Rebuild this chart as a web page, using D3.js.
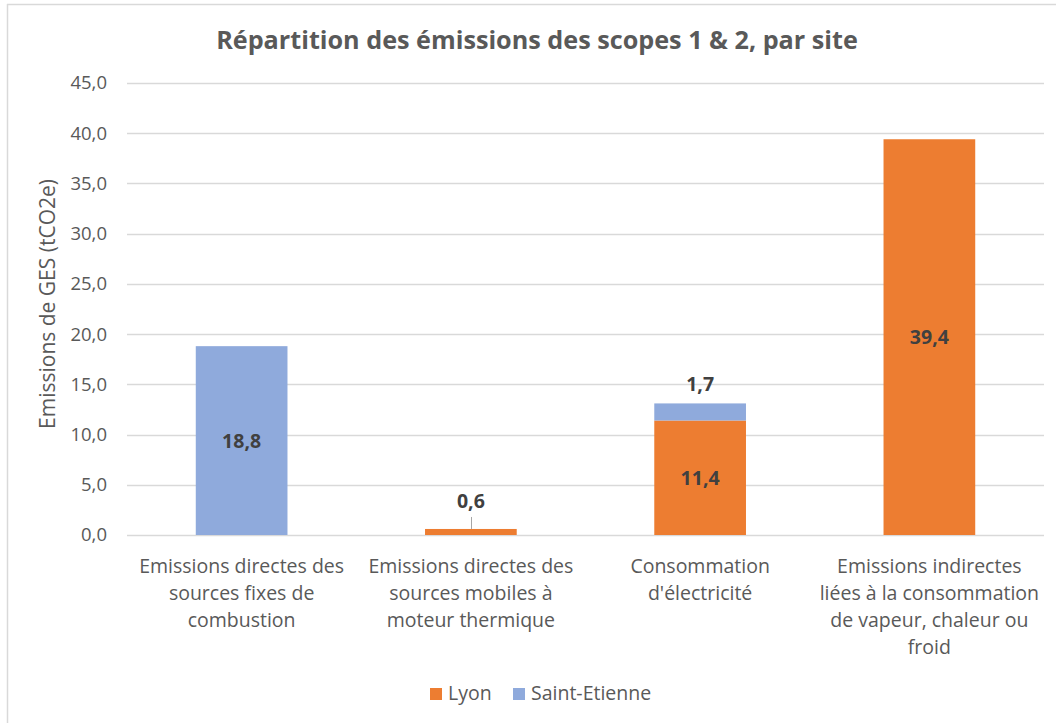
<!DOCTYPE html>
<html>
<head>
<meta charset="utf-8">
<script src="https://cdn.jsdelivr.net/npm/d3@7/dist/d3.min.js"></script>
<style>
  body { margin: 0; background: #fff; }
  svg text { font-family: "Open Sans", Lato, sans-serif; }
</style>
</head>
<body>
<svg id="chart" width="1056" height="723"></svg>
<script>
// data
var categories = [
    ["Emissions directes des", "sources fixes de", "combustion"],
    ["Emissions directes des", "sources mobiles à", "moteur thermique"],
    ["Consommation", "d'électricité"],
    ["Emissions indirectes", "liées à la consommation", "de vapeur, chaleur ou", "froid"]
];
var seriesNames = ["Lyon", "Saint-Etienne"];
var lyon = [0, 0.6, 11.4, 39.4];
var saintEtienne = [18.8, 0, 1.7, 0];
var yTicks = [0, 5, 10, 15, 20, 25, 30, 35, 40, 45];

var colors = ["#ED7D31", "#8FAADC"];

var svg = d3.select("#chart");

// chart border (only top and left are visible in the crop)
svg.append("line")
    .attr("x1", 7).attr("x2", 1056).attr("y1", 4.5).attr("y2", 4.5)
    .attr("stroke", "#D9D9D9").attr("stroke-width", 1.5);
svg.append("line")
    .attr("x1", 7.5).attr("x2", 7.5).attr("y1", 4).attr("y2", 723)
    .attr("stroke", "#D9D9D9").attr("stroke-width", 1.5);

var x = d3.scaleBand()
    .domain(d3.range(categories.length))
    .range([127, 1044])
    .paddingInner(0.6)
    .paddingOuter(0.3);

var y = d3.scaleLinear()
    .domain([0, 45])
    .range([535, 83]);

var fmt = function(v) { return d3.format(".1f")(v).replace(".", ","); };

// gridlines
svg.append("g").selectAll("line")
    .data(yTicks)
    .enter().append("line")
    .attr("x1", 127).attr("x2", 1044)
    .attr("y1", function(d){ return Math.round(y(d)) + 0.5; })
    .attr("y2", function(d){ return Math.round(y(d)) + 0.5; })
    .attr("stroke", "#D9D9D9")
    .attr("stroke-width", 1.4);

// y axis labels
var yAxis = d3.axisLeft(y).tickValues(yTicks).tickFormat(fmt).tickSize(0).tickPadding(20);
var gy = svg.append("g").attr("transform", "translate(127,0)").call(yAxis);
gy.select(".domain").remove();
gy.selectAll("text")
    .attr("fill", "#595959")
    .style("font-size", "18.5px");

// stacked data
var stackData = categories.map(function(c, i) {
    return { i: i, Lyon: lyon[i], "Saint-Etienne": saintEtienne[i] };
});
var stack = d3.stack().keys(seriesNames)(stackData);

svg.append("g").selectAll("g")
    .data(stack)
    .enter().append("g")
    .attr("fill", function(d, k){ return colors[k]; })
    .selectAll("rect")
    .data(function(d){ return d; })
    .enter().append("rect")
    .attr("x", function(d){ return x(d.data.i); })
    .attr("width", x.bandwidth())
    .attr("y", function(d){ return y(d[1]); })
    .attr("height", function(d){ return y(d[0]) - y(d[1]); });

// data labels
var labels = [];
stack.forEach(function(s) {
    s.forEach(function(d) {
        var v = d[1] - d[0];
        if (v <= 0) return;
        var h = y(d[0]) - y(d[1]);
        var cx = x(d.data.i) + x.bandwidth() / 2;
        if (h > 30) {
            labels.push({ v: v, x: cx, y: (y(d[0]) + y(d[1])) / 2 + 7, leader: false });
        } else if (d[0] > 0) {
            labels.push({ v: v, x: cx, y: y(d[1]) - 12.5, leader: false });
        } else {
            labels.push({ v: v, x: cx, y: y(d[1]) - 21, leader: true, top: y(d[1]) });
        }
    });
});

svg.append("g").selectAll("line")
    .data(labels.filter(function(d){ return d.leader; }))
    .enter().append("line")
    .attr("x1", function(d){ return Math.round(d.x) + 0.5; })
    .attr("x2", function(d){ return Math.round(d.x) + 0.5; })
    .attr("y1", function(d){ return d.y + 9; })
    .attr("y2", function(d){ return d.top; })
    .attr("stroke", "#A6A6A6");

svg.append("g").selectAll("text")
    .data(labels)
    .enter().append("text")
    .attr("x", function(d){ return d.x; })
    .attr("y", function(d){ return d.y; })
    .attr("text-anchor", "middle")
    .attr("fill", "#404040")
    .style("font-size", "19.5px")
    .style("font-weight", "bold")
    .text(function(d){ return fmt(d.v); });

// category labels
var cat = svg.append("g").selectAll("text")
    .data(categories)
    .enter().append("text")
    .attr("text-anchor", "middle")
    .attr("fill", "#595959")
    .style("font-size", "19.5px");
cat.selectAll("tspan")
    .data(function(d, i){ return d.map(function(t){ return { t: t, i: i }; }); })
    .enter().append("tspan")
    .attr("x", function(d){ return x(d.i) + x.bandwidth() / 2; })
    .attr("y", function(d, j){ return 573 + j * 27; })
    .text(function(d){ return d.t; });

// title
svg.append("text")
    .attr("x", 537).attr("y", 49)
    .attr("text-anchor", "middle")
    .attr("fill", "#595959")
    .style("font-size", "25.2px")
    .style("font-weight", "bold")
    .text("Répartition des émissions des scopes 1 & 2, par site");

// y axis title
svg.append("text")
    .attr("transform", "translate(55,304) rotate(-90)")
    .attr("text-anchor", "middle")
    .attr("fill", "#595959")
    .style("font-size", "21px")
    .text("Emissions de GES (tCO2e)");

// legend
var legendX = [430, 513];
var lg = svg.append("g").selectAll("g")
    .data(seriesNames)
    .enter().append("g")
    .attr("transform", function(d, i){ return "translate(" + legendX[i] + ",700)"; });
lg.append("rect")
    .attr("y", -12)
    .attr("width", 12).attr("height", 12)
    .attr("fill", function(d, i){ return colors[i]; });
lg.append("text")
    .attr("x", 18).attr("y", 0)
    .attr("fill", "#595959")
    .style("font-size", "19.5px")
    .text(function(d){ return d; });
</script>
</body>
</html>
